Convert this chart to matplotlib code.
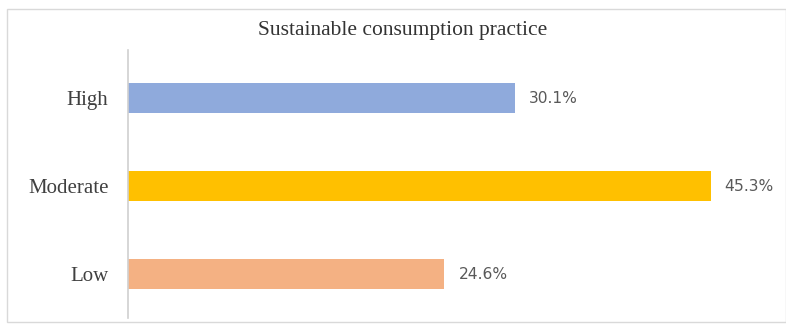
import matplotlib
matplotlib.use("Agg")
import matplotlib.pyplot as plt
from matplotlib.patches import Rectangle

categories = ["Low", "Moderate", "High"]
values = [24.6, 45.3, 30.1]
value_labels = ["24.6%", "45.3%", "30.1%"]
colors = ["#F4B183", "#FFC000", "#8FAADC"]
title = "Sustainable consumption practice"

W, H = 786, 331
fig = plt.figure(figsize=(W / 100, H / 100), dpi=100)
fig.patch.set_facecolor("white")

# outer chart border
fig.patches.append(Rectangle((7 / W, (H - 322) / H), (W - 7) / W, (322 - 9) / H,
                             transform=fig.transFigure, fill=False,
                             edgecolor="#D9D9D9", linewidth=1.0))

ax = fig.add_axes([128 / W, (H - 318) / H, (771 - 128) / W, (318 - 50) / H])
y = list(range(len(categories)))
ax.barh(y, values, height=0.34, color=colors)
ax.set_xlim(0, 50)
ax.set_ylim(-0.5, 2.55)

for yi, v, lab in zip(y, values, value_labels):
    ax.text(v + 1.1, yi, lab, va="center", ha="left", fontsize=11.2,
            color="#595959", family="DejaVu Sans")

ax.set_yticks(y)
ax.set_yticklabels(categories, family="Liberation Serif", fontsize=15, color="#404040")
ax.tick_params(axis="y", length=0, pad=14)
ax.set_xticks([])
for s in ["top", "right", "bottom"]:
    ax.spines[s].set_visible(False)
ax.spines["left"].set_color("#D0D0D0")
ax.spines["left"].set_linewidth(1.2)

fig.text(0.512, 1 - 30 / H, title, ha="center", va="center",
         family="Liberation Serif", fontsize=15.5, color="#333333")

fig.savefig("out.png", dpi=100)
